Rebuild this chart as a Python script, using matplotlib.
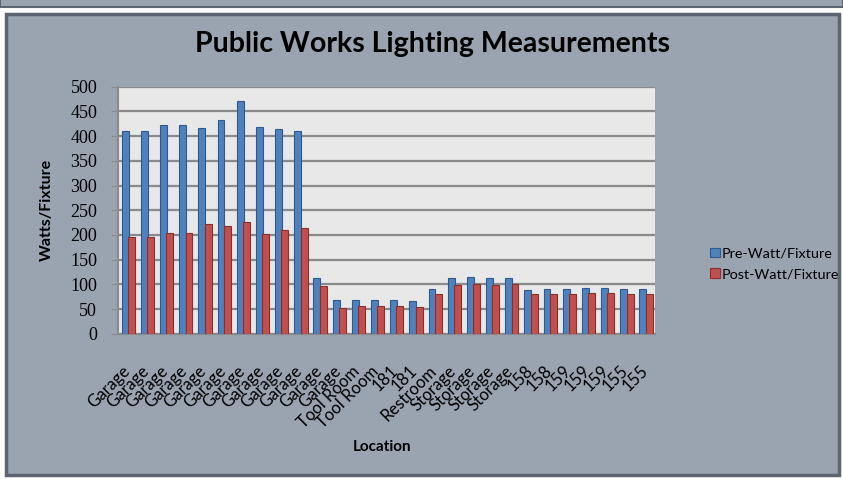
import matplotlib
matplotlib.use("Agg")
import matplotlib.pyplot as plt
import matplotlib.transforms as mtransforms
from matplotlib.patches import Rectangle
import numpy as np

locations = ["Garage"] * 12 + ["Tool Room"] * 2 + ["181"] * 2 + ["Restroom"] + \
            ["Storage"] * 4 + ["158"] * 2 + ["159"] * 3 + ["155"] * 2
pre_watt = [410, 410, 422, 422, 416, 433, 472, 419, 415, 410, 112, 68, 68, 68,
            69, 67, 90, 112, 116, 112, 112, 88, 90, 90, 92, 92, 90, 90]
post_watt = [196, 196, 204, 204, 222, 219, 226, 202, 211, 214, 97, 53, 56, 56,
             56, 54, 81, 99, 101, 99, 101, 80, 81, 81, 83, 82, 80, 80]
y_ticks = [0, 50, 100, 150, 200, 250, 300, 350, 400, 450, 500]

panel_bg = "#9aa3b0"
plot_bg = "#e8e8e8"
blue = "#4f81bd"
blue_dark = "#2f5a8f"
red = "#c0504d"
red_dark = "#8c2f2c"
sans = ["Lato", "DejaVu Sans"]
serif = ["Liberation Serif", "DejaVu Serif"]

fig = plt.figure(figsize=(8.43, 4.79), dpi=100)
fig.patch.set_facecolor("white")

# outer chart panel and the strip of the box above it
fig.patches.append(Rectangle((0.0, 0.985), 1.0, 0.02, transform=fig.transFigure,
                             facecolor=panel_bg, edgecolor="#5d6570", lw=1.5, zorder=-5))
fig.patches.append(Rectangle((0.007, 0.008), 0.988, 0.962, transform=fig.transFigure,
                             facecolor=panel_bg, edgecolor="#5d6570", lw=2.5, zorder=-5))

ax = fig.add_axes([0.140, 0.303, 0.637, 0.516])
ax.set_zorder(2)
ax.set_facecolor(plot_bg)

x = np.arange(len(locations))
w = 0.36
ax.bar(x - 0.13, pre_watt, width=w, color=blue, edgecolor=blue_dark, linewidth=0.8,
       zorder=3, label="Pre-Watt/Fixture")
ax.bar(x + 0.20, post_watt, width=w, color=red, edgecolor=red_dark, linewidth=0.8,
       zorder=3, label="Post-Watt/Fixture")

ax.set_xlim(-0.5, len(locations) - 0.5)
ax.set_ylim(0, 500)
ax.set_yticks(y_ticks)
ax.set_yticklabels([str(v) for v in y_ticks], family=serif, fontsize=13)
ax.yaxis.grid(True, color="#8a8a8a", linewidth=1.6, zorder=1)
ax.set_axisbelow(True)
ax.tick_params(axis="y", length=5, color="#8a8a8a", pad=10)

ax.set_xticks(x)
ax.set_xticklabels(locations, rotation=45, ha="right", va="top",
                   rotation_mode="anchor", family=sans, fontsize=12)
ax.tick_params(axis="x", length=0, pad=18)
# nudge the slanted labels so their upper ends sit under each bar pair
shift = mtransforms.ScaledTranslation(-0.06, -0.04, fig.dpi_scale_trans)
for lbl in ax.get_xticklabels():
    lbl.set_transform(lbl.get_transform() + shift)

for side in ("top", "right"):
    ax.spines[side].set_visible(False)
ax.spines["left"].set_color("#8a8a8a")
ax.spines["left"].set_linewidth(1.5)
ax.spines["bottom"].set_color("#8a8a8a")
ax.spines["bottom"].set_linewidth(1.5)

ax.set_ylabel("Watts/Fixture", family=sans, fontsize=11.5, fontweight="bold", labelpad=12)
fig.text(0.453, 0.067, "Location", family=sans, fontsize=11, fontweight="bold",
         ha="center", va="center")
fig.text(0.513, 0.908, "Public Works Lighting Measurements", family=sans,
         fontsize=20.5, fontweight="bold", ha="center", va="center")

leg = ax.legend(loc="center left", bbox_to_anchor=(1.079, 0.283), frameon=False,
                prop={"family": sans, "size": 10.4}, handlelength=0.65,
                handleheight=0.65, handletextpad=0.15, labelspacing=0.6)

fig.savefig("out.png", dpi=100, facecolor=fig.get_facecolor())
